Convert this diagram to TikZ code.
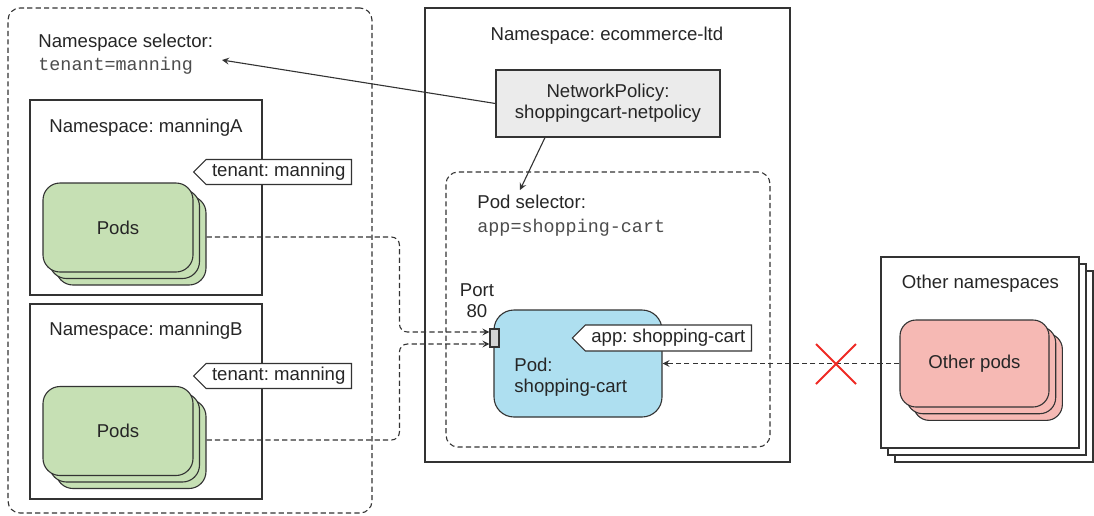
\documentclass[tikz,border=0pt]{standalone}
\usepackage{fontspec}
\setmainfont{Liberation Sans}
\setmonofont{Liberation Mono}
\usepackage{xcolor}
\usepackage{tikz}
\usetikzlibrary{positioning, arrows.meta, shapes, shapes.symbols, calc, shadows}
\definecolor{linegray}{HTML}{333333}
\definecolor{podgreen}{HTML}{C6E0B4}
\definecolor{podred}{HTML}{F6B9B4}
\definecolor{podblue}{HTML}{AEDFF0}
\definecolor{policygray}{HTML}{EBEBEB}
\definecolor{portgray}{HTML}{D4D4D4}
\definecolor{denyred}{HTML}{EE2A24}
\frenchspacing

\begin{document}
\begin{tikzpicture}[x=0.5pt, y=-0.5pt, font=\fontsize{9.3}{10.5}\selectfont, text=black!85]
        \tikzstyle{sel} = [rectangle, draw=linegray, line width=0.55pt, dash pattern=on 2.6pt off 1.6pt, rounded corners=6pt]
        \tikzstyle{ns} = [rectangle, draw=linegray, line width=0.55pt]
        \tikzstyle{pods} = [ns, rounded corners=8.5pt, minimum width=75pt, minimum height=44.5pt, fill=podgreen, copy shadow={shadow xshift=6.5pt, shadow yshift=-6.5pt, fill=podgreen, draw=linegray}, copy shadow={shadow xshift=3.25pt, shadow yshift=-3.25pt, fill=podgreen, draw=linegray}]
        \tikzstyle{otherpods} = [ns, rounded corners=8pt, minimum width=74.5pt, minimum height=43.5pt, fill=podred, copy shadow={shadow xshift=6.7pt, shadow yshift=-6.7pt, fill=podred, draw=linegray}, copy shadow={shadow xshift=3.35pt, shadow yshift=-3.35pt, fill=podred, draw=linegray}]
        \tikzstyle{tag} = [signal, signal to=west, signal pointer angle=90, draw=linegray, line width=0.55pt, fill=white, minimum height=12.5pt, inner xsep=3pt, inner ysep=0pt]
        \tikzstyle{txt} = [inner sep=0pt, anchor=base west]
        \tikzstyle{title} = [inner sep=0pt, anchor=base]
        \tikzstyle{key} = [txt, text=black!70, font=\fontsize{9.2}{10.5}\selectfont\ttfamily]
        \tikzstyle{arrow} = [draw=linegray, line width=0.55pt, ->, >=stealth]
        \tikzstyle{flow} = [arrow, dash pattern=on 2.6pt off 1.6pt, rounded corners=4pt]
        \tikzstyle{blocked} = [draw=denyred, line width=1pt]

        \useasboundingbox (0,0) rectangle (1094,515);

        % tenant namespaces
        \node [sel, minimum width=182pt, minimum height=252.5pt] (ns_sel) at (190,260.5) {};
        \node [txt] (ns_sel_lbl) at (38,47) {Namespace selector:};
        \node [key] (ns_sel_key) at (38,70) {tenant=manning};

        \node [ns, minimum width=116pt, minimum height=97.5pt] (ns_a) at (146,197.5) {};
        \node [title] (ns_a_lbl) at (146,132) {Namespace: manningA};
        \node [tag, anchor=east] (tag_a) at (352,172) {tenant: manning};
        \node [pods] (pods_a) at (118,227.5) {Pods};

        \node [ns, minimum width=116pt, minimum height=97.5pt] (ns_b) at (146,401.5) {};
        \node [title] (ns_b_lbl) at (146,335) {Namespace: manningB};
        \node [tag, anchor=east] (tag_b) at (352,376) {tenant: manning};
        \node [pods] (pods_b) at (118,431) {Pods};

        % ecommerce namespace
        \node [ns, minimum width=182.5pt, minimum height=227pt] (ns_ecom) at (607.5,235) {};
        \node [title] (ns_ecom_lbl) at (607,40) {Namespace: ecommerce-ltd};
        \node [ns, fill=policygray, minimum width=112pt, minimum height=33.5pt, align=center] (netpol) at (608,103.5) {NetworkPolicy:\\shoppingcart-netpolicy};
        \node [sel, minimum width=162pt, minimum height=137.5pt] (pod_sel) at (608,309.5) {};
        \node [txt] (pod_sel_lbl) at (477,208) {Pod selector:};
        \node [key] (pod_sel_key) at (477,232) {app=shopping-cart};
        \node [ns, fill=podblue, rounded corners=10pt, minimum width=84pt, minimum height=53.5pt] (cart) at (578,363.5) {};
        \node [inner sep=0pt, anchor=west, align=left] (cart_lbl) at (514,377) {Pod:\\shopping-cart};
        \node [tag, anchor=east, minimum height=13pt] (tag_cart) at (752,338) {app: shopping-cart};
        \node [ns, fill=portgray, minimum width=4.5pt, minimum height=9pt, inner sep=0pt] (port) at (494.5,338) {};
        \node [inner sep=0pt, align=center] (port_lbl) at (477,301) {Port\\80};

        % other namespaces
        \node [ns, fill=white, minimum width=99pt, minimum height=95.5pt, copy shadow={shadow xshift=7pt, shadow yshift=-7pt, fill=white, draw=linegray}, copy shadow={shadow xshift=3.5pt, shadow yshift=-3.5pt, fill=white, draw=linegray}] (ns_other) at (980,352.5) {};
        \node [title] (ns_other_lbl) at (980.5,288) {Other namespaces};
        \node [otherpods] (pods_other) at (974.5,363.5) {Other pods};

        \coordinate (sel_tip) at (222,60);
        \coordinate (pod_sel_tip) at (520,190);
        \coordinate (deny) at (836,364);

        \draw [arrow] (netpol.west) -- (sel_tip);
        \draw [arrow] ($(netpol.south west)!0.22!(netpol.south east)$) -- (pod_sel_tip);
        \draw [flow] ($(pods_a.east)+(13,9.5)$) -| ($(port.west)+(-90,-6)$) -- ($(port.west)+(0,-6)$);
        \draw [flow] ($(pods_b.east)+(13,9)$) -| ($(port.west)+(-90,6)$) -- ($(port.west)+(0,6)$);
        \draw [flow] (pods_other.west) -- (cart.east);
        \draw [blocked] ($(deny)+(-20,-20)$) -- ($(deny)+(20,20)$) ($(deny)+(-20,20)$) -- ($(deny)+(20,-20)$);
    \end{tikzpicture}
\end{document}
